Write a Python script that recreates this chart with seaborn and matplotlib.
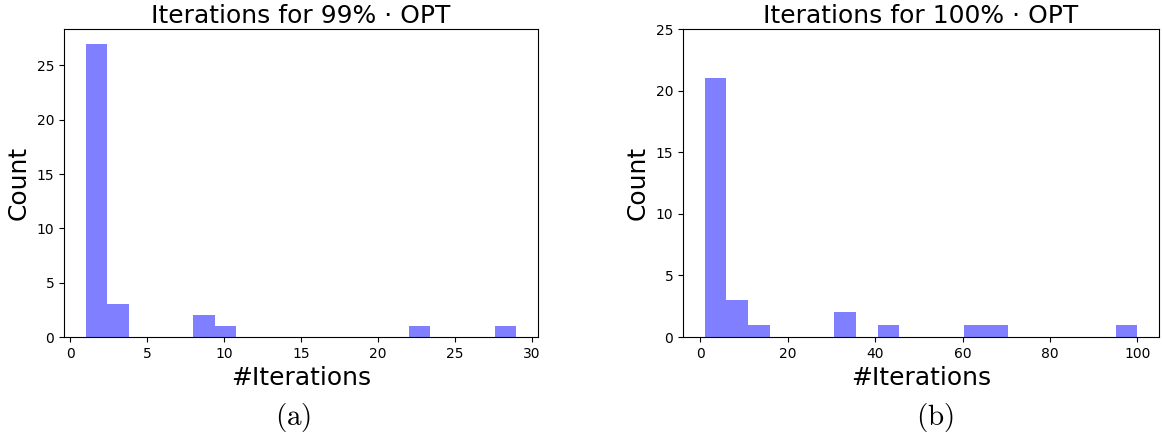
import numpy as np
import pandas as pd
import matplotlib
matplotlib.use("Agg")
import matplotlib.pyplot as plt
import seaborn as sns

# Data (integer iteration counts)
iters_99 = [1]*20 + [2]*7 + [3]*3 + [9, 9] + [10] + [23] + [29]
iters_100 = [1]*12 + [2]*5 + [3]*2 + [4]*2 + [7, 8, 10] + [13] + [32, 34] + [43] + [63] + [67] + [100]

titles = ["Iterations for 99% \u00b7 OPT", "Iterations for 100% \u00b7 OPT"]
captions = ["(a)", "(b)"]

plt.rcParams['mathtext.fontset'] = 'cm'

fig = plt.figure(figsize=(11.62, 4.37), dpi=100)
ax1 = fig.add_axes([0.0551, 0.2288, 0.4079, 0.7048])
ax2 = fig.add_axes([0.5878, 0.2288, 0.4096, 0.7048])

for ax, data, title in zip([ax1, ax2], [iters_99, iters_100], titles):
    sns.histplot(x=data, bins=20, color="blue", alpha=0.5, edgecolor="none",
                 linewidth=0, ax=ax)
    ax.set_title(title, fontsize=18, pad=4)
    ax.set_xlabel("#Iterations", fontsize=18)
    ax.set_ylabel("Count", fontsize=18)
    ax.tick_params(labelsize=10)

ax2.set_ylim(0, 25)

fig.text(0.252, 0.045, r"$\mathrm{%s}$" % captions[0], fontsize=21, ha="center", va="center")
fig.text(0.805, 0.045, r"$\mathrm{%s}$" % captions[1], fontsize=21, ha="center", va="center")

fig.savefig("out.png", dpi=100)
